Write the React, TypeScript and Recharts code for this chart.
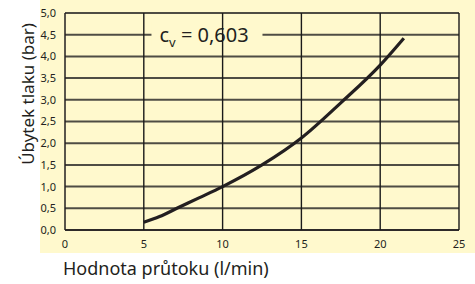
import React from 'react';
import { LineChart, Line, XAxis, YAxis, CartesianGrid, ReferenceDot } from 'recharts';

// flow rate (l/min) vs pressure drop (bar)
const flowRate = [5, 6, 7.1, 8.5, 10, 12.5, 15, 17.5, 20, 21.5];
const pressureDrop = [0.18, 0.31, 0.5, 0.74, 1.0, 1.5, 2.12, 2.93, 3.8, 4.42];

const xTicks = [0, 5, 10, 15, 20, 25];
const yTicks = [0, 0.5, 1, 1.5, 2, 2.5, 3, 3.5, 4, 4.5, 5];

const cvLabel = { name: 'c', sub: 'v', value: '0,603', x: 7.2, y: 4.5 };
const xTitle = 'Hodnota průtoku (l/min)';
const yTitle = 'Úbytek tlaku (bar)';

const data = flowRate.map((q, i) => ({ q, dp: pressureDrop[i] }));

const INK = '#231f20';
const PAPER = '#fff9cd';
const FONT = '"Noto Sans", sans-serif';

const W = 475;
const H = 284;
const MARGIN = { top: 13, right: 16, bottom: 30, left: 0 };
const Y_AXIS_W = 65;
const X_AXIS_H = 24;
const PLOT_TOP = MARGIN.top;
const PLOT_BOTTOM = H - MARGIN.bottom - X_AXIS_H;

const fmt = (v: number) => v.toFixed(1).replace('.', ',');

// x tick label plus its (darker) vertical grid line
const XTick = ({ x, y, payload }: any) => (
  <g>
    {payload.value > 0 && (
      <line x1={x} x2={x} y1={PLOT_TOP} y2={PLOT_BOTTOM} stroke="#1a1a1a" strokeWidth={1.4} />
    )}
    <text x={x} y={y} dy={10} textAnchor="middle" fill={INK} fontSize={11} fontFamily={FONT}>
      {payload.value}
    </text>
  </g>
);

const XTitle = ({ viewBox }: any) => (
  <text x={viewBox.x - 2} y={viewBox.y + 45} fill={INK} fontSize={18} fontFamily={FONT}>
    {xTitle}
  </text>
);

const YTitle = ({ viewBox }: any) => {
  const cx = 27;
  const cy = viewBox.y + 81;
  return (
    <text
      x={cx}
      y={cy}
      transform={`rotate(-90 ${cx} ${cy})`}
      textAnchor="middle"
      dominantBaseline="central"
      fill={INK}
      fontSize={17}
      fontFamily={FONT}
    >
      {yTitle}
    </text>
  );
};

const CvShape = ({ cx, cy }: any) => (
  <g>
    <rect x={cx - 27} y={cy - 12} width={111} height={24} fill={PAPER} />
    <text x={cx - 19} y={cy + 7} fill={INK} fontSize={20} fontFamily={FONT}>
      {cvLabel.name}
      <tspan fontSize={13} dy={5}>{cvLabel.sub}</tspan>
      <tspan dy={-5}>{` = ${cvLabel.value}`}</tspan>
    </text>
  </g>
);

export default function App() {
  return (
    <div
      style={{
        position: 'absolute',
        left: 0,
        top: 0,
        width: W,
        height: H,
        background: `linear-gradient(${PAPER}, ${PAPER}) 40px 0 / 435px 253px no-repeat, #fff`,
      }}
    >
      <LineChart width={W} height={H} data={data} margin={MARGIN}>
        <CartesianGrid vertical={false} stroke="#4f4d44" strokeWidth={2} />
        <XAxis
          dataKey="q"
          type="number"
          domain={[0, 25]}
          ticks={xTicks}
          interval={0}
          height={X_AXIS_H}
          axisLine={{ stroke: INK, strokeWidth: 1.5 }}
          tickLine={false}
          tick={<XTick />}
          label={<XTitle />}
        />
        <YAxis
          type="number"
          domain={[0, 5]}
          ticks={yTicks}
          interval={0}
          width={Y_AXIS_W}
          axisLine={{ stroke: INK, strokeWidth: 1.5 }}
          tickLine={false}
          tickMargin={3}
          tickFormatter={fmt}
          tick={{ fill: INK, fontSize: 11, fontFamily: FONT }}
          label={<YTitle />}
        />
        <ReferenceDot x={cvLabel.x} y={cvLabel.y} r={0} shape={<CvShape />} />
        <Line
          dataKey="dp"
          type="monotone"
          stroke={INK}
          strokeWidth={3.2}
          dot={false}
          isAnimationActive={false}
        />
      </LineChart>
    </div>
  );
}
